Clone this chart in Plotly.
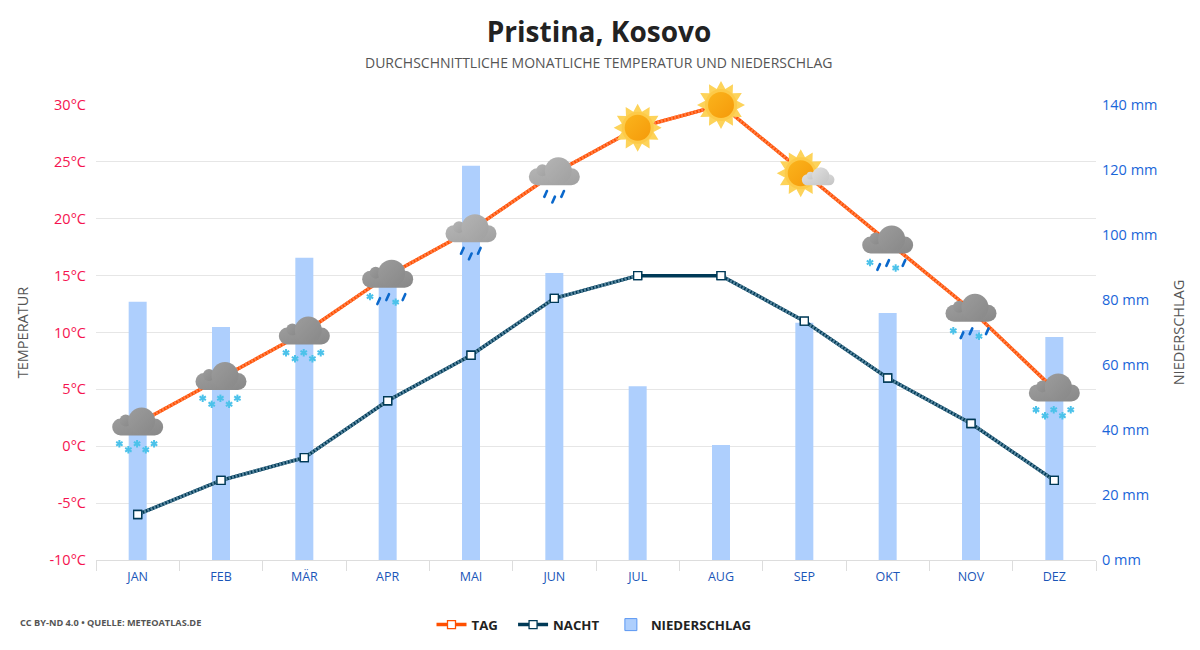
import math
import base64
import plotly.graph_objects as go

MONTHS = ["JAN", "FEB", "MÄR", "APR", "MAI", "JUN", "JUL", "AUG", "SEP", "OKT", "NOV", "DEZ"]
DAY = [2, 6, 10, 15, 19, 24, 28, 30, 24, 18, 12, 5]
NIGHT = [-6, -3, -1, 4, 8, 13, 15, 15, 11, 6, 2, -3]
RAIN = [79.5, 71.7, 93, 85, 121.3, 88.3, 53.5, 35.4, 73, 76, 70.8, 68.6]
ICONS = ["snow", "snow", "snow", "mix", "rain", "rain", "sun", "sun", "partly", "mix", "mix", "snow"]
TEMP_TICKS = [-10, -5, 0, 5, 10, 15, 20, 25, 30]
TEMP_LABELS = ["-10°C", "-5°C", "0°C", "5°C", "10°C", "15°C", "20°C", "25°C", "30°C"]
RAIN_TICKS = [0, 20, 40, 60, 80, 100, 120, 140]
RAIN_LABELS = ["0 mm", "20 mm", "40 mm", "60 mm", "80 mm", "100 mm", "120 mm", "140 mm"]

FONT = "Open Sans"
L, R, T, B = 96, 104, 105, 90
PLOT_W = 1200 - L - R
PLOT_H = 650 - T - B
ICON_PX = 80
TEMP_MIN, TEMP_MAX = -10, 30


CLOUD_SHAPES = (
    '<rect x="14.5" y="35" width="51" height="17" rx="8.5" fill="url(#g)"/>'
    '<circle cx="28" cy="37" r="6" fill="url(#g)"/>'
    '<circle cx="44" cy="37.5" r="13.5" fill="url(#g)"/>'
)


def defs(c1, c2):
    return (
        f'<defs><linearGradient id="g" x1="0" y1="0" x2="1" y2="1">'
        f'<stop offset="0" stop-color="{c1}"/><stop offset="1" stop-color="{c2}"/>'
        f'</linearGradient>'
        f'<linearGradient id="s" x1="0" y1="0" x2="1" y2="1">'
        f'<stop offset="0" stop-color="#fbb41c"/><stop offset="1" stop-color="#f59a0a"/>'
        f'</linearGradient></defs>'
    )


def flake(x, y):
    out = ""
    for a in (0, 60, 120):
        out += (f'<line x1="{x}" y1="{y-3.7}" x2="{x}" y2="{y+3.7}" stroke="#4cc2ea" '
                f'stroke-width="2" transform="rotate({a} {x} {y})"/>')
    return out


def drop(x, y):
    return (f'<line x1="{x+1.3}" y1="{y-2.9}" x2="{x-1.3}" y2="{y+2.9}" stroke="#0a68cc" '
            f'stroke-width="2.6" stroke-linecap="round"/>')


def sun(cx, cy):
    pts = []
    for i in range(24):
        r = 24 if i % 2 == 0 else 16.5
        a = math.radians(i * 15)
        pts.append(f"{cx + r * math.sin(a):.1f},{cy - r * math.cos(a):.1f}")
    return (
        f'<polygon points="{" ".join(pts)}" fill="#fdd35a"/>'
        f'<circle cx="{cx}" cy="{cy}" r="16" fill="#fdca48"/>'
        f'<circle cx="{cx}" cy="{cy}" r="13" fill="url(#s)"/>'
    )


def icon_svg(kind):
    if kind == "sun":
        body = defs("#aaa", "#888") + sun(40, 40)
    elif kind == "partly":
        body = defs("#e0e0e0", "#c4c4c4") + sun(36.4, 40)
        body += f'<g transform="translate(28.2 18.7) scale(0.64)">{CLOUD_SHAPES}</g>'
    elif kind == "rain":
        body = defs("#b4b4b4", "#a0a0a0") + CLOUD_SHAPES
        for x, y in [(31.3, 60.7), (39.3, 66.3), (48.3, 60.7)]:
            body += drop(x, y)
    elif kind == "snow":
        body = defs("#9c9c9c", "#888888") + CLOUD_SHAPES
        for x, y in [(21.7, 60.3), (30.7, 66.3), (39.4, 60.3), (48.1, 66.3), (56.4, 60.3)]:
            body += flake(x, y)
    else:
        body = defs("#9c9c9c", "#888888") + CLOUD_SHAPES
        body += flake(22.3, 61) + drop(31, 65.5) + drop(40, 61.5) + flake(48, 66.5) + drop(56.3, 61.5)
    svg = f'<svg xmlns="http://www.w3.org/2000/svg" width="160" height="160" viewBox="0 0 80 80">{body}</svg>'
    return "data:image/svg+xml;base64," + base64.b64encode(svg.encode()).decode()


SQUARE_DAY = dict(symbol="square", size=8, color="#ffffff", line=dict(color="#ff4f00", width=1.3))
SQUARE_NIGHT = dict(symbol="square", size=8, color="#ffffff", line=dict(color="#003a57", width=1.3))
HATCH_DAY = dict(color="#ff7d45", width=3.5, dash="2px,1.5px")
HATCH_NIGHT = dict(color="#58879f", width=3.5, dash="2px,1.5px")

fig = go.Figure()
fig.add_bar(
    x=MONTHS, y=RAIN, name="NIEDERSCHLAG", yaxis="y", width=0.216, showlegend=False,
    marker=dict(color="#aecffd", line=dict(width=0)),
)
fig.add_bar(
    x=MONTHS[:1], y=[None], name="NIEDERSCHLAG", yaxis="y", legendrank=3,
    marker=dict(color="#aecffd", line=dict(color="#5b97f2", width=1)),
)
fig.add_scatter(
    x=MONTHS, y=DAY, name="TAG\u00a0\u00a0\u00a0", yaxis="y2", mode="lines+markers", legendrank=1,
    line=dict(color="#ff4f00", width=3.5), marker=SQUARE_DAY,
)
fig.add_scatter(
    x=MONTHS, y=DAY, yaxis="y2", mode="lines", showlegend=False, hoverinfo="skip", line=HATCH_DAY,
)
fig.add_scatter(
    x=MONTHS, y=NIGHT, name="NACHT\u00a0\u00a0", yaxis="y2", mode="lines+markers", legendrank=2,
    line=dict(color="#003a57", width=3.5), marker=SQUARE_NIGHT,
)
# the hatched look of the night line leaves out the flat JUL-AUG stretch
fig.add_scatter(
    x=MONTHS[:7], y=NIGHT[:7], yaxis="y2", mode="lines", showlegend=False, hoverinfo="skip", line=HATCH_NIGHT,
)
fig.add_scatter(
    x=MONTHS[7:], y=NIGHT[7:], yaxis="y2", mode="lines", showlegend=False, hoverinfo="skip", line=HATCH_NIGHT,
)
fig.add_scatter(
    x=MONTHS, y=NIGHT, yaxis="y2", mode="markers", showlegend=False, hoverinfo="skip", marker=SQUARE_NIGHT,
)

images = []
for i, k in enumerate(ICONS):
    images.append(dict(
        source=icon_svg(k), xref="paper", yref="paper",
        x=(i + 0.5) / len(MONTHS), y=(DAY[i] - TEMP_MIN) / (TEMP_MAX - TEMP_MIN),
        sizex=ICON_PX / PLOT_W, sizey=ICON_PX / PLOT_H,
        xanchor="center", yanchor="middle", sizing="stretch", layer="above",
    ))

fig.update_layout(
    width=1200, height=650,
    margin=dict(l=L, r=R, t=T, b=B, pad=0, autoexpand=False),
    paper_bgcolor="#ffffff", plot_bgcolor="#ffffff",
    font=dict(family=FONT, size=14, color="#333333"),
    images=images,
    barmode="overlay",
    showlegend=True,
    legend=dict(
        orientation="h", x=0.498, xanchor="center", xref="paper", y=-0.1429, yanchor="middle",
        font=dict(family=FONT, size=13.2, color="#222222", weight=700),
        itemwidth=30, bgcolor="rgba(0,0,0,0)",
    ),
    title=dict(
        text="Pristina, Kosovo", x=0.503, xanchor="center", xref="paper", y=1 - 32 / 650, yanchor="middle",
        yref="container", font=dict(family=FONT, size=28, color="#222222", weight=700),
    ),
    xaxis=dict(
        type="category", range=[-0.5, 11.5], tickson="boundaries", ticks="outside", ticklen=10, tickwidth=1,
        tickcolor="#dddddd", showline=True, linecolor="#dddddd", linewidth=1, showgrid=False,
        tickfont=dict(family=FONT, size=12.5, color="#1a56b8"), ticklabelstandoff=5, automargin=False,
    ),
    yaxis=dict(
        side="right", range=[0, 140], tickvals=RAIN_TICKS, ticktext=RAIN_LABELS, showgrid=False,
        zeroline=False, tickfont=dict(family=FONT, size=14.5, color="#1a66d9"), ticklabelstandoff=5,
        automargin=False,
        title=dict(text="NIEDERSCHLAG", font=dict(family=FONT, size=14.5, color="#555555"), standoff=17),
    ),
    yaxis2=dict(
        overlaying="y", side="left", range=[TEMP_MIN, TEMP_MAX], tickvals=TEMP_TICKS, ticktext=TEMP_LABELS,
        showgrid=True, gridcolor="#e6e6e6", gridwidth=1, zeroline=False,
        tickfont=dict(family=FONT, size=14.5, color="#f5124f"), ticklabelstandoff=9, automargin=False,
        title=dict(text="TEMPERATUR", font=dict(family=FONT, size=14.5, color="#555555"), standoff=17),
    ),
    annotations=[
        dict(text="DURCHSCHNITTLICHE MONATLICHE TEMPERATUR UND NIEDERSCHLAG", xref="paper", yref="paper",
             x=0.5029, y=1 + 42 / PLOT_H, xanchor="center", yanchor="middle", showarrow=False,
             font=dict(family=FONT, size=14, color="#555555")),
        dict(text="<b>CC BY-ND 4.0 • QUELLE: METEOATLAS.DE</b>", xref="paper", yref="paper",
             x=-78 / PLOT_W, y=-62 / PLOT_H, xanchor="left", yanchor="middle", showarrow=False,
             font=dict(family=FONT, size=9.2, color="#555555")),
    ],
)
fig.write_html("out.html", post_script="document.body.style.margin='0';", config={"displayModeBar": False})
